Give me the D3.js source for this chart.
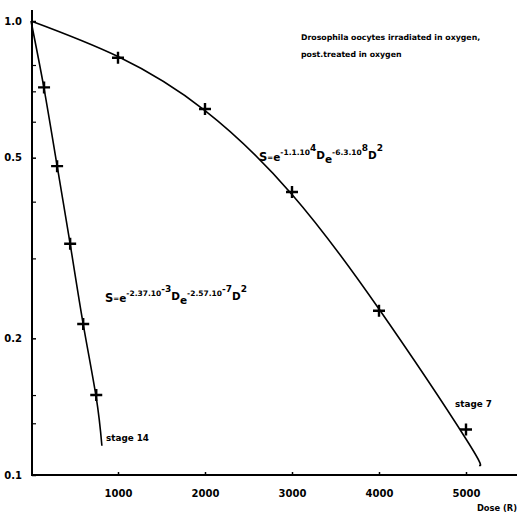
<!DOCTYPE html>
<html><head><meta charset="utf-8">
<script src="https://cdn.jsdelivr.net/npm/d3@7"></script>
<style>body{margin:0;background:#fff}svg{display:block}</style>
</head><body><svg id="c" width="523" height="514"></svg>
<script>
// ---- data ----
const doseTicks = [1000, 2000, 3000, 4000, 5000];
const survLabelTicks = [1.0, 0.5, 0.2, 0.1];
const survMinorTicks = [0.8, 0.7, 0.6, 0.4, 0.3, 0.15, 0.13];
const stage7Dose = [1000, 2000, 3000, 4000, 5000];
const stage7Surv = [0.83, 0.64, 0.42, 0.23, 0.126];
const stage14Dose = [150, 300, 450, 600, 750];
const stage14Surv = [0.714, 0.479, 0.323, 0.215, 0.150];
const stage7CurveDose = [0, 1000, 2000, 3000, 4000, 5000, 5150];
const stage7CurveSurv = [1.0, 0.835, 0.635, 0.415, 0.232, 0.12, 0.105];
const stage14CurveDose = [0, 150, 300, 450, 600, 750, 815];
const stage14CurveSurv = [1.0, 0.71, 0.48, 0.323, 0.215, 0.148, 0.116];
const titleLines = ["Drosophila oocytes irradiated in oxygen,", "post.treated in oxygen"];
const xAxisTitle = "Dose (R)";
const stage7Label = "stage 7";
const stage14Label = "stage 14";
const eq7Parts = ["S", "=", "e", "-1.1.10", "4", "D", "e", "-6.3.10", "8", "D", "2"];
const eq14Parts = ["S", "=", "e", "-2.37.10", "-3", "D", "e", "-2.57.10", "-7", "D", "2"];

// ---- layout ----
const svg = d3.select("#c");
const FONT = "'DejaVu Sans', sans-serif";
const x = d3.scaleLinear().domain([0, 5000]).range([31, 466]);
const y = d3.scaleLog().domain([0.1, 1]).range([475, 21]);
const axX = 32, axY = 475;

// axis lines
svg.append("line").attr("x1", axX).attr("x2", axX).attr("y1", 10).attr("y2", axY + 1)
  .attr("stroke", "#000").attr("stroke-width", 2);
svg.append("line").attr("x1", axX - 1).attr("x2", 517).attr("y1", axY).attr("y2", axY)
  .attr("stroke", "#000").attr("stroke-width", 2);

// x axis ticks + labels
const gx = svg.append("g").attr("transform", `translate(0,${axY})`)
  .call(d3.axisBottom(x).tickValues(doseTicks).tickSize(-3).tickPadding(15).tickFormat(d3.format("d")));
gx.select(".domain").remove();
gx.selectAll("line").attr("stroke-width", 1.5);
gx.selectAll("text").attr("font-family", FONT).attr("font-weight", "bold").attr("font-size", 10);

// y axis ticks + labels
const gy = svg.append("g").attr("transform", `translate(${axX},0)`)
  .call(d3.axisLeft(y).tickValues(survLabelTicks).tickSize(-4).tickPadding(10).tickFormat(d3.format(".1f")));
gy.select(".domain").remove();
gy.selectAll("line").attr("stroke-width", 1.5);
gy.selectAll("text").attr("font-family", FONT).attr("font-weight", "bold").attr("font-size", 10);
const gym = svg.append("g").attr("transform", `translate(${axX},0)`)
  .call(d3.axisLeft(y).tickValues(survMinorTicks).tickSize(-4).tickFormat(""));
gym.select(".domain").remove();
gym.selectAll("line").attr("stroke-width", 1.2);

// curves
const line = d3.line().x(d => x(d[0])).y(d => y(d[1])).curve(d3.curveNatural);
svg.append("path").datum(d3.zip(stage7CurveDose, stage7CurveSurv)).attr("d", line)
  .attr("fill", "none").attr("stroke", "#000").attr("stroke-width", 1.6);
svg.append("path").datum(d3.zip(stage14CurveDose, stage14CurveSurv)).attr("d", line)
  .attr("fill", "none").attr("stroke", "#000").attr("stroke-width", 1.6);

// crosses
const crossPath = "M-6,0H6M0,-6V6";
function crosses(dose, surv) {
  svg.append("g").selectAll("path").data(d3.zip(dose, surv)).join("path")
    .attr("transform", d => `translate(${x(d[0])},${y(d[1])})`)
    .attr("d", crossPath).attr("stroke", "#000").attr("stroke-width", 2.4).attr("fill", "none");
}
crosses(stage7Dose, stage7Surv);
crosses(stage14Dose, stage14Surv);

// text
function label(txt, px, py, size, anchor) {
  svg.append("text").attr("x", px).attr("y", py).text(txt)
    .attr("font-family", FONT).attr("font-weight", "bold").attr("font-size", size)
    .attr("text-anchor", anchor || "start");
}
label(titleLines[0], 301, 40, 7.8);
label(titleLines[1], 301, 57, 7.8);
label(xAxisTitle, 517, 511, 8.3, "end");
label(stage7Label, 455, 407, 8.8);
label(stage14Label, 106, 441, 8.8);

// equations: level offsets and sizes per part
const eqSizes = [11.5, 7, 10.5, 7.5, 9, 10.5, 10.5, 7.5, 9, 10.5, 9];
const eqOffsets = [0, -1, 0, -6, -10, -2, 2, -6, -10, -2, -10];
function equation(parts, px, base) {
  const t = svg.append("text").attr("x", px).attr("y", base)
    .attr("font-family", FONT).attr("font-weight", "bold");
  parts.forEach((p, i) => {
    t.append("tspan").attr("y", base + eqOffsets[i]).attr("font-size", eqSizes[i]).text(p);
  });
}
equation(eq7Parts, 259, 161);
equation(eq14Parts, 105, 302);
</script></body></html>
